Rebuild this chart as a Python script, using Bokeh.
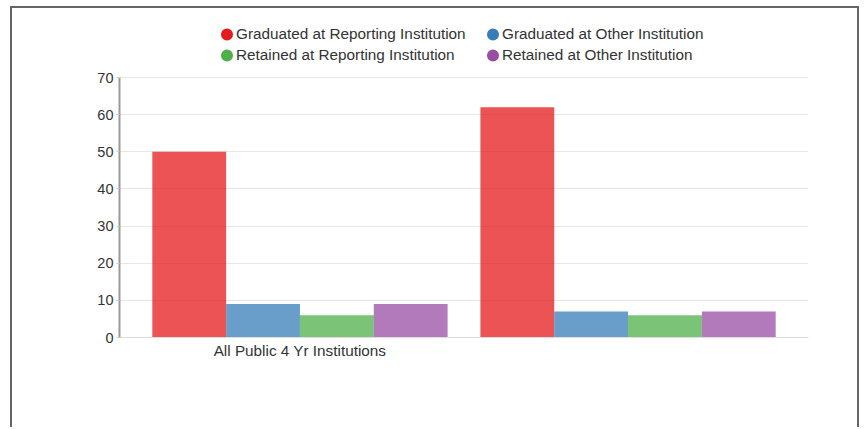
from bokeh.plotting import figure
from bokeh.models import ColumnDataSource, FactorRange, Range1d, Legend, LegendItem, FixedTicker
from bokeh.transform import dodge
from bokeh.embed import file_html
from bokeh.resources import INLINE

categories = ["All Public 4 Yr Institutions", " "]
grad_reporting = [50, 62]
grad_other = [9, 7]
ret_reporting = [6, 6]
ret_other = [9, 7]
series_names = ["Graduated at Reporting Institution", "Graduated at Other Institution",
                "Retained at Reporting Institution", "Retained at Other Institution"]
colors = ["#E41A1C", "#377EB8", "#4DAF4A", "#984EA3"]
y_ticks = [0, 10, 20, 30, 40, 50, 60, 70]

source = ColumnDataSource(dict(cat=categories, s0=grad_reporting, s1=grad_other,
                               s2=ret_reporting, s3=ret_other))

FONT = "Liberation Sans"

# frame extends above the 0-70 axis to leave room for the legend inside it
p = figure(width=849, height=421, output_backend="svg", toolbar_location=None,
           x_range=FactorRange(factors=categories, range_padding=0.05),
           y_range=Range1d(0, 86.7),
           min_border_left=107, min_border_right=53, min_border_top=7, min_border_bottom=92)
p.styles = {"margin-left": "10px", "margin-top": "6px",
            "border-top": "2px solid #666", "border-left": "2px solid #666",
            "border-right": "2px solid #666"}
p.outline_line_color = None
p.background_fill_color = "white"
p.border_fill_color = "white"

bw = 0.225
offsets = [-1.5 * bw, -0.5 * bw, 0.5 * bw, 1.5 * bw]
markers = []
for i in range(4):
    p.vbar(x=dodge("cat", offsets[i], range=p.x_range), top="s%d" % i, width=bw,
           source=source, fill_color=colors[i], fill_alpha=0.75, line_color=None)
    # legend swatch renderer (vanishingly small in the plot, full circle in the legend)
    m = p.ellipse(x=dodge("cat", offsets[i], range=p.x_range), y="s%d" % i,
                  width=0.01, height=0.01, width_units="screen", height_units="screen",
                  source=source, fill_color=colors[i], line_color=None)
    markers.append(m)

order = [0, 2, 1, 3]  # legend fills column-first
items = [LegendItem(label=series_names[i], renderers=[markers[i]]) for i in order]

legend = Legend(items=items, ncols=2, location=(100, 272),
                glyph_width=15, glyph_height=20, label_standoff=2, spacing=1,
                label_width=248, label_height=20, padding=0, margin=0,
                border_line_color=None, background_fill_alpha=0,
                label_text_font=FONT, label_text_font_size="15.3px", label_text_color="#333333")
p.add_layout(legend, "center")

p.ygrid.grid_line_color = "#e6e6e6"
p.ygrid.bounds = (0, 70)
p.xgrid.grid_line_color = None
p.yaxis.ticker = FixedTicker(ticks=y_ticks)
p.yaxis.bounds = (0, 70)
p.yaxis.axis_line_color = "#999999"
p.yaxis.axis_line_width = 2
p.yaxis.major_tick_line_color = "#cccccc"
p.yaxis.major_tick_out = 3
p.yaxis.major_tick_in = 0
p.yaxis.minor_tick_line_color = None
p.yaxis.major_label_standoff = 3
p.yaxis.major_label_text_font_size = "14.5px"
p.xaxis.axis_line_color = "#dddddd"
p.xaxis.major_tick_line_color = None
p.xaxis.major_tick_out = 0
p.xaxis.major_tick_in = 0
p.xaxis.minor_tick_line_color = None
p.xaxis.major_label_standoff = 4
p.xaxis.major_label_text_font_size = "15.3px"
for ax in (p.xaxis, p.yaxis):
    ax.major_label_text_font = FONT
    ax.major_label_text_color = "#333333"

open("out.html", "w").write(file_html(p, INLINE))
